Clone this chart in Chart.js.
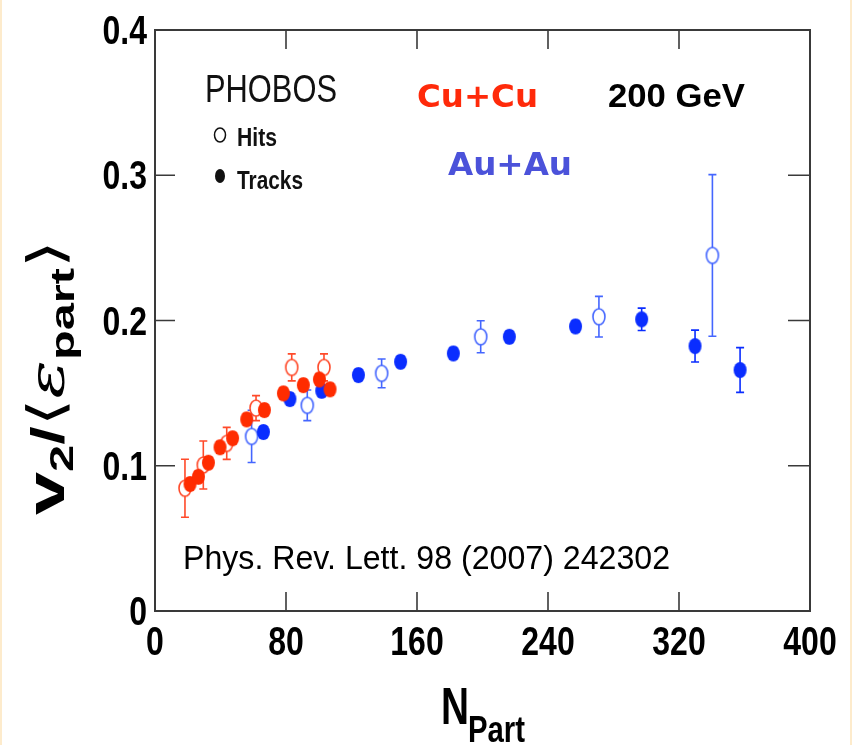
<!DOCTYPE html>
<html>
<head>
<meta charset="utf-8">
<script src="https://cdn.jsdelivr.net/npm/chart.js@4.4.0/dist/chart.umd.min.js"></script>
<style>
html,body{margin:0;padding:0;background:#ffffff;}
body{width:852px;height:745px;overflow:hidden;position:relative;}
#c{position:absolute;left:0;top:0;}
.edge{position:absolute;top:0;width:2px;height:745px;background:#fdebcc;}
</style>
</head>
<body>
<canvas id="c" width="852" height="745"></canvas>
<div class="edge" style="left:0"></div>
<div class="edge" style="right:0"></div>
<script>
// ---- Data ----
const xTicks = [0, 80, 160, 240, 320, 400];
const yTicks = [0, 0.1, 0.2, 0.3, 0.4];
const xTickLabels = ['0', '80', '160', '240', '320', '400'];
const yTickLabels = ['0', '0.1', '0.2', '0.3', '0.4'];

// Cu+Cu, Hits (open red)
const cuHitsX   = [18.3, 29.5, 43.8, 61.7, 83.5, 103.2];
const cuHitsY   = [0.0845, 0.1005, 0.1154, 0.1397, 0.1677, 0.1677];
const cuHitsErr = [0.020, 0.0165, 0.011, 0.0086, 0.0093, 0.0093];

// Cu+Cu, Tracks (filled red)
const cuTracksX   = [21.4, 26.5, 32.6, 39.7, 47.4, 56.0, 66.8, 78.4, 90.6, 100.4, 106.9];
const cuTracksY   = [0.0874, 0.0924, 0.1021, 0.1127, 0.1189, 0.1319, 0.1383, 0.1498, 0.1555, 0.1594, 0.1526];
const cuTracksErr = [0.004, 0.004, 0.004, 0.004, 0.004, 0.004, 0.004, 0.004, 0.004, 0.004, 0.004];

// Au+Au, Hits (open blue)
const auHitsX   = [59.0, 93.0, 138.4, 198.9, 271.1, 340.4];
const auHitsY   = [0.1202, 0.1416, 0.1636, 0.1888, 0.2026, 0.2448];
const auHitsErr = [0.018, 0.0105, 0.0099, 0.011, 0.014, 0.0556];

// Au+Au, Tracks (filled blue)
const auTracksX   = [66.2, 82.4, 101.8, 124.2, 150.0, 182.2, 216.4, 256.8, 297.2, 329.8, 357.3];
const auTracksY   = [0.1232, 0.1459, 0.1516, 0.1624, 0.1716, 0.1773, 0.1888, 0.1959, 0.2008, 0.1824, 0.1659];
const auTracksErr = [0.004, 0.004, 0.004, 0.004, 0.004, 0.004, 0.004, 0.004, 0.0077, 0.011, 0.0154];

// ---- Styles ----
const RED_FILL = '#ff2c00';
const RED_OPEN = '#ff4a2a';
const BLUE_FILL = '#0a2dff';
const BLUE_OPEN = '#4466ff';
const SANS = '"Liberation Sans", Arial, sans-serif';
const TICK_FONT = 'bold 41px ' + SANS;
const TICK_SX = 0.78;

function ellipseCanvas(fill, stroke, rx, ry, lw) {
  const c = document.createElement('canvas');
  c.width = Math.ceil(2 * rx + lw + 2);
  c.height = Math.ceil(2 * ry + lw + 2);
  const g = c.getContext('2d');
  g.beginPath();
  g.ellipse(c.width / 2, c.height / 2, rx, ry, 0, 0, 2 * Math.PI);
  if (fill) { g.fillStyle = fill; g.fill(); }
  if (stroke) { g.lineWidth = lw; g.strokeStyle = stroke; g.stroke(); }
  return c;
}

const mk = (xs, ys) => xs.map((x, i) => ({x: x, y: ys[i]}));

function ds(label, xs, ys, errs, img, color, order) {
  return {
    label: label,
    data: mk(xs, ys),
    errors: errs,
    errColor: color,
    pointStyle: img,
    pointRadius: 7,
    showLine: false,
    borderColor: color,
    backgroundColor: color,
    order: order
  };
}

const datasets = [
  ds('Cu+Cu Tracks', cuTracksX, cuTracksY, cuTracksErr, ellipseCanvas(RED_FILL, null, 6.5, 8, 0), RED_FILL, 1),
  ds('Au+Au Tracks', auTracksX, auTracksY, auTracksErr, ellipseCanvas(BLUE_FILL, null, 6.5, 8, 0), BLUE_FILL, 2),
  ds('Cu+Cu Hits', cuHitsX, cuHitsY, cuHitsErr, ellipseCanvas('#ffffff', RED_OPEN, 6, 8, 1.6), RED_OPEN, 3),
  ds('Au+Au Hits', auHitsX, auHitsY, auHitsErr, ellipseCanvas('#ffffff', BLUE_OPEN, 6, 8, 1.6), BLUE_OPEN, 4)
];

function fitText(ctx, text, font, x, y, w, color) {
  ctx.save();
  ctx.font = font;
  ctx.fillStyle = color;
  ctx.textBaseline = 'alphabetic';
  ctx.textAlign = 'left';
  const m = ctx.measureText(text).width;
  ctx.translate(x, y);
  ctx.scale(w / m, 1);
  ctx.fillText(text, 0, 0);
  ctx.restore();
}

function scaledText(ctx, text, font, x, y, sx, align, color) {
  ctx.save();
  ctx.font = font;
  ctx.fillStyle = color;
  ctx.textBaseline = 'alphabetic';
  ctx.textAlign = align;
  ctx.translate(x, y);
  ctx.scale(sx, 1);
  ctx.fillText(text, 0, 0);
  ctx.restore();
}

const errorBars = {
  id: 'errorBars',
  beforeDatasetsDraw(chart) {
    const ctx = chart.ctx, xs = chart.scales.x, ys = chart.scales.y;
    chart.data.datasets.forEach(d => {
      ctx.save();
      ctx.strokeStyle = d.errColor;
      ctx.lineWidth = 1.6;
      d.data.forEach((p, i) => {
        const e = d.errors[i];
        const px = xs.getPixelForValue(p.x);
        const y1 = ys.getPixelForValue(p.y + e);
        const y2 = ys.getPixelForValue(p.y - e);
        ctx.beginPath();
        ctx.moveTo(px, y1); ctx.lineTo(px, y2);
        ctx.moveTo(px - 4, y1); ctx.lineTo(px + 4, y1);
        ctx.moveTo(px - 4, y2); ctx.lineTo(px + 4, y2);
        ctx.stroke();
      });
      ctx.restore();
    });
  }
};

const frameAndText = {
  id: 'frameAndText',
  afterDraw(chart) {
    const ctx = chart.ctx, a = chart.chartArea, xs = chart.scales.x, ys = chart.scales.y;
    ctx.save();
    ctx.strokeStyle = '#3a3a3a';
    ctx.lineWidth = 2;
    ctx.strokeRect(a.left, a.top, a.right - a.left, a.bottom - a.top);
    ctx.lineWidth = 1.6;
    ctx.beginPath();
    xTicks.forEach(v => {
      const px = xs.getPixelForValue(v);
      ctx.moveTo(px, a.bottom); ctx.lineTo(px, a.bottom - 19);
      ctx.moveTo(px, a.top); ctx.lineTo(px, a.top + 19);
    });
    yTicks.forEach(v => {
      const py = ys.getPixelForValue(v);
      ctx.moveTo(a.left, py); ctx.lineTo(a.left + 20, py);
      ctx.moveTo(a.right, py); ctx.lineTo(a.right - 22, py);
    });
    ctx.stroke();
    ctx.restore();

    // tick labels (condensed bold), positioned by the chart scales
    xTicks.forEach((v, i) => {
      scaledText(ctx, xTickLabels[i], TICK_FONT, xs.getPixelForValue(v), a.bottom + 44, TICK_SX, 'center', '#000');
    });
    yTicks.forEach((v, i) => {
      scaledText(ctx, yTickLabels[i], TICK_FONT, a.left - 8, ys.getPixelForValue(v) + 14, TICK_SX, 'right', '#000');
    });

    // annotations
    fitText(ctx, 'PHOBOS', '38px ' + SANS, 205, 102, 132, '#111');
    fitText(ctx, 'Hits', 'bold 26px ' + SANS, 237, 146, 40, '#111');
    fitText(ctx, 'Tracks', 'bold 26px ' + SANS, 237, 189, 66, '#111');
    fitText(ctx, 'Cu+Cu', 'bold 32px "DejaVu Sans", sans-serif', 417, 107, 121, '#ff2a0a');
    fitText(ctx, 'Au+Au', 'bold 32px "DejaVu Sans", sans-serif', 448, 175, 124, '#4b52da');
    fitText(ctx, '200 GeV', 'bold 34px ' + SANS, 608, 107, 137, '#000');
    fitText(ctx, 'Phys. Rev. Lett. 98 (2007) 242302', '33px ' + SANS, 183, 569, 487, '#000');

    // legend markers
    ctx.save();
    ctx.strokeStyle = '#111'; ctx.lineWidth = 1.5; ctx.fillStyle = '#fff';
    ctx.beginPath(); ctx.ellipse(220, 135, 5.5, 7, 0, 0, 2 * Math.PI); ctx.fill(); ctx.stroke();
    ctx.fillStyle = '#111';
    ctx.beginPath(); ctx.ellipse(220, 176, 5, 7, 0, 0, 2 * Math.PI); ctx.fill();
    ctx.restore();

    // x title N_Part
    fitText(ctx, 'N', 'bold 52px ' + SANS, 441, 724, 28, '#000');
    fitText(ctx, 'Part', 'bold 37px ' + SANS, 468, 742, 57, '#000');

    // y title  v2/<eps_part>
    const pieces = [
      {t: 'v', f: 'bold 54px ' + SANS, dy: 0},
      {t: '2', f: 'bold 34px ' + SANS, dy: 9},
      {t: '/', f: 'bold 46px ' + SANS, dy: 0},
      {t: '\u27E8', f: '50px "DejaVu Sans", sans-serif', dy: -1},
      {t: '\u03B5', f: 'italic 50px "DejaVu Serif", serif', dy: 0},
      {t: 'part', f: 'bold 34px ' + SANS, dy: 10},
      {t: '\u27E9', f: '50px "DejaVu Sans", sans-serif', dy: -1}
    ];
    let total = 0;
    pieces.forEach(p => { ctx.font = p.f; p.w = ctx.measureText(p.t).width; total += p.w; });
    const target = 275;
    ctx.save();
    ctx.translate(64, 515);
    ctx.rotate(-Math.PI / 2);
    ctx.scale(target / total, 1);
    ctx.fillStyle = '#000';
    ctx.textBaseline = 'alphabetic';
    let cx = 0;
    pieces.forEach(p => { ctx.font = p.f; ctx.fillText(p.t, cx, p.dy); cx += p.w; });
    ctx.restore();
  }
};

new Chart(document.getElementById('c'), {
  type: 'scatter',
  data: {datasets: datasets},
  options: {
    responsive: false,
    animation: false,
    events: [],
    layout: {padding: {left: 0, top: 30, right: 42, bottom: 0}},
    plugins: {legend: {display: false}, tooltip: {enabled: false}, title: {display: false}},
    scales: {
      x: {
        type: 'linear', min: 0, max: 400,
        afterFit: s => { s.height = 134; },
        afterBuildTicks: s => { s.ticks = xTicks.map(v => ({value: v})); },
        grid: {display: false, drawTicks: false},
        border: {display: false},
        ticks: {display: false}
      },
      y: {
        type: 'linear', min: 0, max: 0.4,
        afterFit: s => { s.width = 155; },
        afterBuildTicks: s => { s.ticks = yTicks.map(v => ({value: v})); },
        grid: {display: false, drawTicks: false},
        border: {display: false},
        ticks: {display: false}
      }
    }
  },
  plugins: [errorBars, frameAndText]
});
</script>
</body>
</html>
